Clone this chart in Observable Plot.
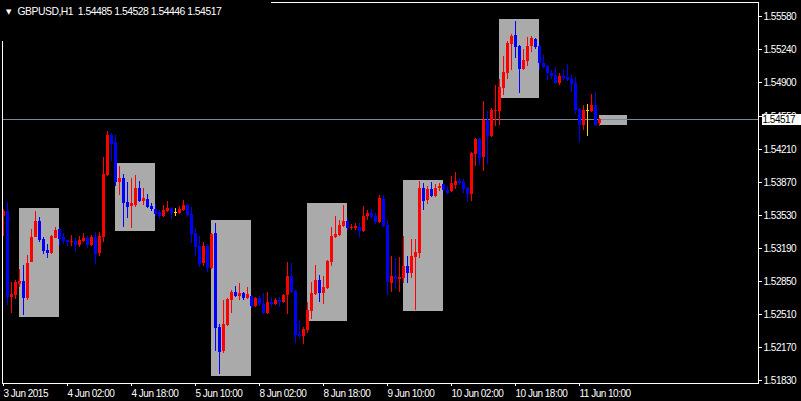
<!DOCTYPE html>
<html><head><meta charset="utf-8">
<script src="https://cdn.jsdelivr.net/npm/d3@7"></script>
<script src="https://cdn.jsdelivr.net/npm/@observablehq/plot@0.6"></script>
<style>
html,body{margin:0;padding:0;background:#000;}
#chart{width:801px;height:401px;overflow:hidden;background:#000;}
</style></head><body><div id="chart"></div>
<script>
const symbolName = "GBPUSD,H1";
const opens = [1.53521,1.53573,1.52686,1.52706,1.52820,1.52851,1.52675,1.53047,1.53304,1.53469,
1.53284,1.53170,1.53140,1.53294,1.53387,1.53304,1.53273,1.53253,1.53263,1.53222,
1.53263,1.53294,1.53222,1.53304,1.53140,1.53304,1.53944,1.54356,1.54284,1.53872,
1.53913,1.53665,1.53624,1.53634,1.53810,1.53676,1.53696,1.53624,1.53593,1.53562,
1.53521,1.53573,1.53603,1.53562,1.53552,1.53583,1.53634,1.53542,1.53346,1.53212,
1.53036,1.53212,1.52985,1.53346,1.52376,1.52129,1.52397,1.52655,1.52737,1.52696,
1.52727,1.52675,1.52696,1.52593,1.52675,1.52614,1.52521,1.52634,1.52614,1.52655,
1.52634,1.52706,1.52902,1.52748,1.52304,1.52284,1.52346,1.52541,1.52717,1.52861,
1.52727,1.52779,1.53047,1.53304,1.53325,1.53418,1.53469,1.53397,1.53397,1.53408,
1.53366,1.53521,1.53552,1.53521,1.53459,1.53696,1.53428,1.52830,1.52902,1.52871,
1.52882,1.53005,1.52933,1.53098,1.53140,1.53810,1.53686,1.53799,1.53727,1.53810,
1.53851,1.53789,1.53779,1.53841,1.53882,1.53872,1.53810,1.53748,1.54160,1.54315,
1.54129,1.54511,1.54346,1.54604,1.54604,1.54841,1.54996,1.55294,1.55387,1.55274,
1.55037,1.55119,1.55274,1.55346,1.55274,1.55099,1.55068,1.54995,1.54975,1.54892,
1.54964,1.54954,1.54934,1.54892,1.54624,1.54459,1.54614,1.54604,1.54665,1.54485];
const highs = [1.53593,1.53665,1.52840,1.52861,1.52974,1.53016,1.53119,1.53387,1.53573,1.53511,
1.53304,1.53232,1.53325,1.53408,1.53397,1.53346,1.53273,1.53325,1.53294,1.53315,
1.53346,1.53315,1.53325,1.53356,1.53356,1.54129,1.54397,1.54377,1.54356,1.54036,
1.53954,1.53872,1.53913,1.53944,1.53882,1.53810,1.53748,1.53655,1.53645,1.53583,
1.53634,1.53676,1.53614,1.53603,1.53624,1.53686,1.53645,1.53614,1.53397,1.53315,
1.53253,1.53232,1.53346,1.53449,1.52407,1.52655,1.52675,1.52758,1.52799,1.52830,
1.52737,1.52789,1.52706,1.52686,1.52696,1.52727,1.52737,1.52686,1.52675,1.52686,
1.52717,1.53047,1.53036,1.52758,1.52449,1.52376,1.52634,1.52840,1.53016,1.52913,
1.52902,1.53067,1.53408,1.53521,1.53480,1.53634,1.53500,1.53439,1.53449,1.53449,
1.53624,1.53583,1.53593,1.53552,1.53737,1.53737,1.53480,1.53109,1.53088,1.53098,
1.53315,1.53109,1.53284,1.53284,1.53882,1.53861,1.53830,1.53872,1.53851,1.53861,
1.53851,1.53830,1.53933,1.53975,1.53913,1.53902,1.53820,1.54181,1.54325,1.54325,
1.54707,1.54604,1.54635,1.54872,1.54934,1.55171,1.55325,1.55398,1.55532,1.55284,
1.55243,1.55367,1.55377,1.55356,1.55284,1.55181,1.55078,1.55026,1.55057,1.54995,
1.55026,1.55088,1.54975,1.54954,1.54635,1.54665,1.54676,1.54779,1.54800,1.54528];
const lows = [1.53315,1.52603,1.52521,1.52665,1.52789,1.52500,1.52655,1.53047,1.53304,1.53253,
1.53129,1.53088,1.53129,1.53294,1.53222,1.53232,1.53212,1.53212,1.53150,1.53201,
1.53253,1.53191,1.53212,1.53026,1.53109,1.53253,1.53933,1.54088,1.53830,1.53737,
1.53408,1.53500,1.53397,1.53614,1.53665,1.53634,1.53603,1.53573,1.53521,1.53490,
1.53511,1.53562,1.53490,1.53521,1.53542,1.53573,1.53521,1.53243,1.53109,1.52995,
1.53005,1.52944,1.52974,1.52129,1.51892,1.52108,1.52387,1.52521,1.52686,1.52655,
1.52655,1.52665,1.52572,1.52583,1.52593,1.52511,1.52511,1.52583,1.52603,1.52583,
1.52624,1.52511,1.52727,1.52212,1.52263,1.52201,1.52315,1.52459,1.52706,1.52634,
1.52614,1.52768,1.53005,1.53294,1.53315,1.53408,1.53377,1.53377,1.53377,1.53304,
1.53356,1.53480,1.53500,1.53439,1.53449,1.53408,1.52706,1.52737,1.52768,1.52737,
1.52830,1.52830,1.52882,1.52552,1.53088,1.53583,1.53645,1.53717,1.53717,1.53779,
1.53779,1.53748,1.53768,1.53799,1.53841,1.53758,1.53665,1.53676,1.54036,1.54047,
1.53985,1.54057,1.54336,1.54449,1.54459,1.54769,1.54934,1.55026,1.55150,1.54789,
1.55026,1.55068,1.55212,1.55243,1.55026,1.55047,1.54923,1.54934,1.54882,1.54872,
1.54923,1.54913,1.54800,1.54573,1.54284,1.54408,1.54346,1.54593,1.54449,1.54446];
const closes = [1.53573,1.52686,1.52717,1.52840,1.52851,1.52675,1.53036,1.53304,1.53469,1.53273,
1.53160,1.53140,1.53315,1.53377,1.53284,1.53263,1.53253,1.53263,1.53222,1.53273,
1.53294,1.53222,1.53304,1.53129,1.53315,1.53954,1.54356,1.54263,1.53872,1.53913,
1.53655,1.53614,1.53655,1.53810,1.53676,1.53707,1.53614,1.53593,1.53542,1.53521,
1.53583,1.53603,1.53552,1.53562,1.53593,1.53634,1.53531,1.53335,1.53201,1.53026,
1.53212,1.52985,1.53335,1.52366,1.52119,1.52407,1.52665,1.52737,1.52696,1.52727,
1.52675,1.52717,1.52593,1.52675,1.52614,1.52521,1.52634,1.52614,1.52655,1.52634,
1.52706,1.52902,1.52737,1.52294,1.52284,1.52356,1.52552,1.52727,1.52861,1.52727,
1.52789,1.53057,1.53315,1.53335,1.53428,1.53469,1.53397,1.53408,1.53418,1.53366,
1.53521,1.53552,1.53511,1.53459,1.53707,1.53418,1.52840,1.52902,1.52871,1.52892,
1.53005,1.52933,1.53109,1.53150,1.53810,1.53676,1.53799,1.53727,1.53810,1.53830,
1.53789,1.53758,1.53861,1.53882,1.53861,1.53799,1.53748,1.54171,1.54315,1.54119,
1.54511,1.54346,1.54614,1.54614,1.54851,1.55006,1.55305,1.55377,1.55264,1.55037,
1.55129,1.55274,1.55356,1.55264,1.55099,1.55057,1.54995,1.54964,1.54892,1.54964,
1.54944,1.54923,1.54882,1.54614,1.54459,1.54614,1.54614,1.54665,1.54459,1.54517];

const xTickIndex = [0, 16, 32, 48, 64, 80, 96, 112, 128, 144];
const xTickLabels = ["3 Jun 2015", "4 Jun 02:00", "4 Jun 18:00", "5 Jun 10:00", "8 Jun 02:00",
  "8 Jun 18:00", "9 Jun 10:00", "10 Jun 02:00", "10 Jun 18:00", "11 Jun 10:00"];
const yTickValues = [1.55580, 1.55240, 1.54900, 1.54550, 1.54210, 1.53870, 1.53530,
  1.53190, 1.52850, 1.52510, 1.52170, 1.51830];

const boxStart = [4, 28, 52, 76, 100, 124, 149];
const boxEnd = [14, 38, 62, 86, 110, 134, 156];
const boxHigh = [1.53603, 1.54067, 1.53480, 1.53655, 1.53892, 1.55552, 1.54562];
const boxLow = [1.52480, 1.53366, 1.51871, 1.52438, 1.52541, 1.54738, 1.54459];

const currentPrice = 1.54517;
const headerValues = [1.54485, 1.54528, 1.54446, 1.54517];

const candles = opens.map((o, i) => ({i, open: o, high: highs[i], low: lows[i], close: closes[i]}));
const boxes = boxStart.map((s, k) => ({s, e: boxEnd[k], hi: boxHigh[k], lo: boxLow[k]}));
const colorOf = d => d.close > d.open ? "#ff0000" : d.close < d.open ? "#0000ff" : "#ffd700";
const title = symbolName + "  " + headerValues.map(v => v.toFixed(5)).join(" ");
const font = "'Liberation Sans', Arial, sans-serif";

const priceTag = {
  draw(ctx) {
    ctx.moveTo(3, -5.5); ctx.lineTo(42, -5.5); ctx.lineTo(42, 5.5); ctx.lineTo(3, 5.5); ctx.closePath();
  }
};

const chart = Plot.plot({
  width: 801, height: 401,
  marginLeft: 2, marginTop: 2, marginRight: 43, marginBottom: 18,
  style: {background: "#000", color: "#fff", fontFamily: font, fontSize: "10px", letterSpacing: "-0.5px", shapeRendering: "crispEdges"},
  x: {domain: [0, 149], range: [3, 599], axis: null},
  y: {domain: [1.51830, 1.55580], range: [380, 16.3], axis: null},
  color: {type: "identity"},
  marks: [
    Plot.rect(boxes, {x1: "s", x2: "e", y1: "lo", y2: "hi", fill: "#aaaaaa"}),
    Plot.ruleY([currentPrice], {stroke: "#778899"}),
    Plot.ruleX(candles, {x: "i", y1: "low", y2: "high", stroke: colorOf}),
    Plot.rect(candles, {x1: d => d.i - 0.375, x2: d => d.i + 0.375, y1: "open", y2: "close", fill: colorOf, dx: 0.5}),
    Plot.ruleY(candles.filter(d => Math.abs(d.close - d.open) < 0.00012),
      {y: "close", x1: d => d.i - 0.375, x2: d => d.i + 0.375, stroke: colorOf, dx: 0.5}),
    Plot.axisY(yTickValues, {anchor: "right", tickSize: 3, tickPadding: 2, tickFormat: d => d.toFixed(5),
      fill: "#fff", stroke: "#fff", fontSize: 10}),
    Plot.axisX(xTickIndex, {anchor: "bottom", tickSize: 3, tickPadding: 3,
      tickFormat: d => xTickLabels[xTickIndex.indexOf(d)], textAnchor: "start", fill: "#fff", stroke: "#fff", fontSize: 10}),
    Plot.dot([currentPrice], {y: d => d, frameAnchor: "right", symbol: priceTag, fill: "#fff", stroke: null, r: 3}),
    Plot.text([currentPrice], {y: d => d, frameAnchor: "right", dx: 4, textAnchor: "start",
      text: d => d.toFixed(5), fill: "#000", fontSize: 10}),
    Plot.frame({stroke: "#fff"}),
    Plot.frame({fill: "#000", stroke: null, insetLeft: -1, insetTop: -1, insetRight: 488, insetBottom: 343}),
    Plot.text([title], {frameAnchor: "top-left", dx: 15, dy: 9, textAnchor: "start", lineAnchor: "middle",
      fill: "#fff", fontSize: 10.4}),
    Plot.text(["▼"], {frameAnchor: "top-left", dx: 6, dy: 9, textAnchor: "middle", lineAnchor: "middle",
      fill: "#fff", fontSize: 7, fontFamily: "DejaVu Sans"})
  ]
});
document.getElementById("chart").appendChild(chart);
</script></body></html>
